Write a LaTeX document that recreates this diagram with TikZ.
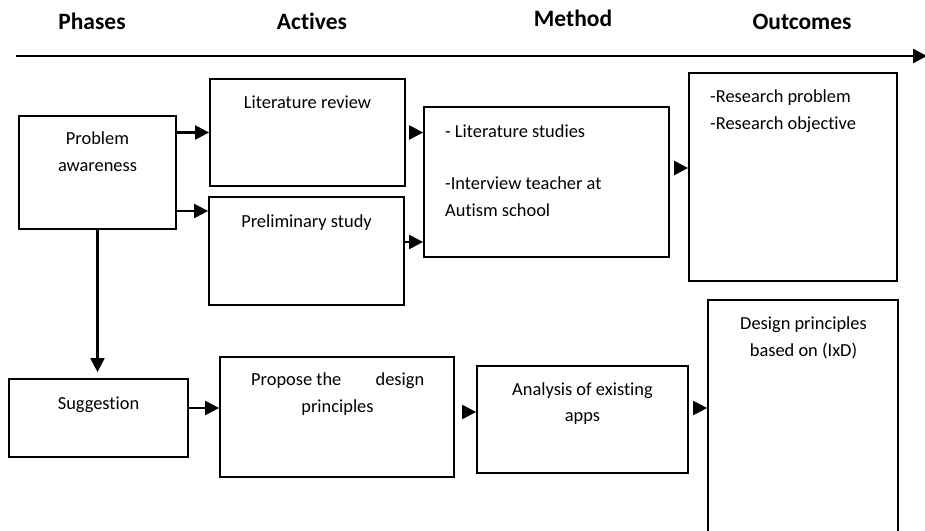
\documentclass[tikz,border=0pt]{standalone}
\usepackage{fontspec}
\setmainfont[Ligatures=NoCommon]{Carlito}
\usepackage{tikz}
\usetikzlibrary{positioning,arrows.meta}

\tikzset{
  box/.style={draw, line width=1.8pt, inner sep=0pt},
  flow/.style={line width=2.3pt, -{Triangle[length=14pt,width=14pt]}},
  hdr/.style={font=\fontsize{23.5}{28}\selectfont\bfseries, inner sep=0pt},
  txt/.style={font=\fontsize{18.4}{27}\selectfont, inner sep=0pt}
}

\begin{document}
\begin{tikzpicture}[x=1pt, y=-1pt]
  \clip (0,0) rectangle (925,530);

  % Column headings and time line
  \node[hdr, anchor=base] (hphase) at (92,29.5) {Phases};
  \node[hdr, anchor=base] (hact) at (312,29.5) {Actives};
  \node[hdr, anchor=base] (hmeth) at (573,26.5) {Method};
  \node[hdr, anchor=base] (hout) at (802,29.5) {Outcomes};
  \coordinate (tl0) at (16,56);
  \coordinate (tl1) at (927,56);
  \draw[line width=2.6pt, -{Triangle[length=14pt,width=14pt]}] (tl0) -- (tl1);

  % Boxes
  \node[box, minimum width=157pt, minimum height=113pt] (prob) at (97.5,172.5) {};
  \node[box, minimum width=195pt, minimum height=107pt] (litrev) at (307.5,132.5) {};
  \node[box, minimum width=195pt, minimum height=108pt] (prelim) at (306.5,251) {};
  \node[box, minimum width=245pt, minimum height=150pt] (method) at (546.5,182) {};
  \node[box, minimum width=208pt, minimum height=208pt] (resout) at (793,177) {};
  \node[box, minimum width=179pt, minimum height=78pt] (sugg) at (98.5,418) {};
  \node[box, minimum width=234pt, minimum height=120pt] (propose) at (337,417) {};
  \node[box, minimum width=211pt, minimum height=107pt] (analysis) at (582.5,419.5) {};
  \node[box, minimum width=190pt, minimum height=250pt] (dpout) at (803,425) {};

  % Box texts
  \node[txt, anchor=base] (probA) at (97.5,144.5) {Problem};
  \node[txt, anchor=base] (probB) at (97.5,171) {awareness};
  \node[txt, anchor=base] (litrevA) at (307.5,108) {Literature review};
  \node[txt, anchor=base] (prelimA) at (306.5,227) {Preliminary study};
  \node[txt, anchor=base west] (methA) at (445,137) {- Literature studies};
  \node[txt, anchor=base west] (methB) at (445,189) {-Interview teacher at};
  \node[txt, anchor=base west] (methC) at (445,216) {Autism school};
  \node[txt, anchor=base west] (resA) at (710,102.5) {-Research problem};
  \node[txt, anchor=base west] (resB) at (710,129) {-Research objective};
  \node[txt, anchor=base] (suggA) at (98.5,409) {Suggestion};
  \node[txt, anchor=base west] (propA) at (251,385) {\makebox[173pt][l]{Propose the\hfill design}};
  \node[txt, anchor=base] (propB) at (337.5,412.5) {principles};
  \node[txt, anchor=base] (anaA) at (582.5,395) {Analysis of existing};
  \node[txt, anchor=base] (anaB) at (582.5,421) {apps};
  \node[txt, anchor=base] (dpA) at (803.5,329) {Design principles};
  \node[txt, anchor=base] (dpB) at (803.5,356) {based on (IxD)};

  % Upper row arrows
  \draw[flow] (prob.east |- litrev.west) -- (litrev.west);
  \draw[flow] ([yshift=-38.5pt]prob.east) coordinate (pp) -- (pp -| prelim.west);
  \draw[flow, shorten <=5pt] (litrev.east) -- (litrev.east -| method.west);
  \draw[flow] ([yshift=9pt]prelim.east) coordinate (pm) -- (pm -| method.west);
  \draw[flow, shorten <=5pt] ([yshift=14pt]method.east) coordinate (mo) -- (mo -| resout.west);

  % Down to the second phase
  \draw[flow, shorten >=6pt] (prob.south) -- (prob.south |- sugg.north);

  % Lower row arrows
  \draw[flow] ([yshift=10pt]sugg.east) coordinate (sp) -- (sp -| propose.west);
  \draw[flow, shorten <=9pt] ([yshift=5pt]propose.east) coordinate (pa) -- (pa -| analysis.west);
  \draw[flow, shorten <=5pt] ([yshift=11.5pt]analysis.east) coordinate (ad) -- (ad -| dpout.west);
\end{tikzpicture}
\end{document}
